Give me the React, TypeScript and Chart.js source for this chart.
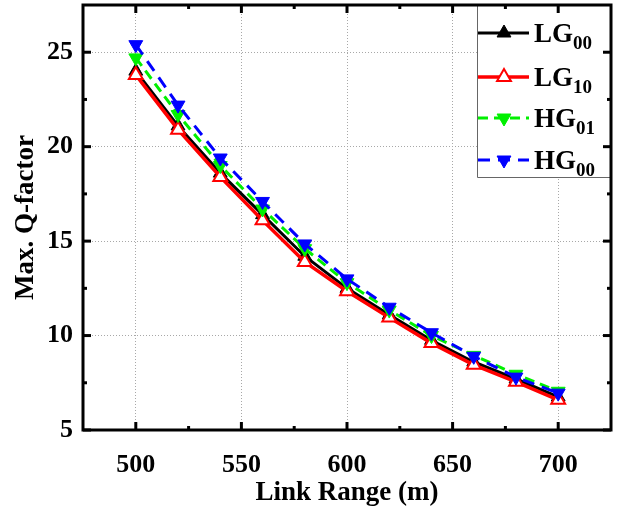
import React, { useEffect, useRef } from 'react';
import { Chart, registerables } from 'chart.js';

Chart.register(...registerables);

const linkRange = [500, 520, 540, 560, 580, 600, 620, 640, 660, 680, 700];
const lg00 = [24.0, 21.1, 18.6, 16.4, 14.2, 12.5, 11.1, 9.75, 8.6, 7.7, 6.75];
const lg10 = [23.8, 20.9, 18.4, 16.1, 13.9, 12.35, 10.95, 9.6, 8.45, 7.55, 6.6];
const hg01 = [24.7, 21.7, 19.0, 16.7, 14.6, 12.8, 11.35, 10.0, 8.95, 7.95, 7.05];
const hg00 = [25.4, 22.2, 19.4, 17.1, 14.85, 13.0, 11.5, 10.15, 8.9, 7.8, 6.95];

const xTickValues = [500, 550, 600, 650, 700];
const xMinorValues = [525, 575, 625, 675];
const yTickValues = [5, 10, 15, 20, 25];
const yMinorValues = [7.5, 12.5, 17.5, 22.5];

const seriesBase = ['LG', 'LG', 'HG', 'HG'];
const seriesSub = ['00', '10', '01', '00'];

const FONT = '"Liberation Serif", "Times New Roman", serif';

function drawTriangle(ctx: CanvasRenderingContext2D, x: number, y: number, r: number, down: boolean) {
  let rad = down ? Math.PI : 0;
  const step = (2 * Math.PI) / 3;
  ctx.beginPath();
  ctx.moveTo(x + Math.sin(rad) * r, y - Math.cos(rad) * r);
  rad += step;
  ctx.lineTo(x + Math.sin(rad) * r, y - Math.cos(rad) * r);
  rad += step;
  ctx.lineTo(x + Math.sin(rad) * r, y - Math.cos(rad) * r);
  ctx.closePath();
}

const framePlugin = {
  id: 'frameTicks',
  afterDraw(chart: any) {
    const { ctx, chartArea } = chart;
    const { left, right, top, bottom } = chartArea;
    const xs = chart.scales.x;
    const ys = chart.scales.y;
    ctx.save();
    ctx.strokeStyle = '#000';
    ctx.lineWidth = 3;
    ctx.lineCap = 'butt';
    const tick = (x1: number, y1: number, x2: number, y2: number) => {
      ctx.beginPath();
      ctx.moveTo(x1, y1);
      ctx.lineTo(x2, y2);
      ctx.stroke();
    };
    xTickValues.forEach((v) => {
      const px = xs.getPixelForValue(v);
      tick(px, bottom, px, bottom - 8);
      tick(px, top, px, top + 8);
    });
    xMinorValues.forEach((v) => {
      const px = xs.getPixelForValue(v);
      tick(px, bottom, px, bottom - 4);
      tick(px, top, px, top + 4);
    });
    yTickValues.forEach((v) => {
      const py = ys.getPixelForValue(v);
      tick(left, py, left + 8, py);
      tick(right, py, right - 8, py);
    });
    yMinorValues.forEach((v) => {
      const py = ys.getPixelForValue(v);
      tick(left, py, left + 4, py);
      tick(right, py, right - 4, py);
    });
    ctx.strokeRect(left, top, right - left, bottom - top);
    ctx.restore();
  },
};

const legendPlugin = {
  id: 'subLegend',
  afterDraw(chart: any) {
    const { ctx, chartArea } = chart;
    const boxRight = chartArea.right;
    const boxLeft = boxRight - 134;
    const boxTop = chartArea.top;
    const boxBottom = boxTop + 172;
    ctx.save();
    ctx.fillStyle = '#fff';
    ctx.fillRect(boxLeft, boxTop, boxRight - boxLeft, boxBottom - boxTop);
    ctx.strokeStyle = '#666';
    ctx.lineWidth = 1;
    ctx.beginPath();
    ctx.moveTo(boxLeft + 0.5, boxTop);
    ctx.lineTo(boxLeft + 0.5, boxBottom + 0.5);
    ctx.lineTo(boxRight, boxBottom + 0.5);
    ctx.stroke();
    const rowY = [28, 72, 113, 155];
    chart.data.datasets.forEach((ds: any, i: number) => {
      const y = boxTop + rowY[i];
      ctx.save();
      ctx.strokeStyle = ds.borderColor;
      ctx.lineWidth = ds.borderWidth;
      ctx.setLineDash(ds.borderDash || []);
      ctx.beginPath();
      ctx.moveTo(boxLeft + 1, y);
      ctx.lineTo(boxLeft + 52, y);
      ctx.stroke();
      ctx.setLineDash([]);
      drawTriangle(ctx, boxLeft + 27, y, ds.pointRadius, ds.pointRotation === 180);
      ctx.fillStyle = ds.pointBackgroundColor;
      ctx.fill();
      ctx.lineWidth = ds.pointBorderWidth;
      ctx.strokeStyle = ds.pointBorderColor;
      ctx.stroke();
      ctx.restore();
      const tx = boxLeft + 57;
      ctx.fillStyle = '#000';
      ctx.textBaseline = 'alphabetic';
      ctx.textAlign = 'left';
      ctx.font = `bold 27px ${FONT}`;
      ctx.fillText(seriesBase[i], tx, y + 9);
      const w = ctx.measureText(seriesBase[i]).width;
      ctx.font = `bold 19px ${FONT}`;
      ctx.fillText(seriesSub[i], tx + w, y + 16);
    });
    ctx.restore();
  },
};

export default function App() {
  const ref = useRef<HTMLCanvasElement | null>(null);
  useEffect(() => {
    if (!ref.current) return;
    const mk = (label: string, data: number[], color: string, opts: any) => ({
      label,
      data: linkRange.map((x, i) => ({ x, y: data[i] })),
      borderColor: color,
      backgroundColor: color,
      borderWidth: 3,
      pointStyle: 'triangle',
      pointRadius: 8,
      pointHoverRadius: 8,
      pointBackgroundColor: color,
      pointBorderColor: color,
      pointBorderWidth: 1,
      pointRotation: 0,
      tension: 0,
      fill: false,
      ...opts,
    });
    const chart = new Chart(ref.current, {
      type: 'line',
      data: {
        datasets: [
          mk('LG00', lg00, '#000000', { order: 4 }),
          mk('LG10', lg10, '#ff0000', {
            order: 3,
            borderWidth: 3.5,
            pointBackgroundColor: '#ffffff',
            pointBorderWidth: 2,
          }),
          mk('HG01', hg01, '#00f000', { order: 2, borderDash: [10, 6], pointRotation: 180 }),
          mk('HG00', hg00, '#0000ff', { order: 1, borderDash: [12, 8], pointRotation: 180 }),
        ],
      },
      plugins: [legendPlugin, framePlugin],
      options: {
        responsive: false,
        animation: false,
        devicePixelRatio: 1,
        layout: { autoPadding: false, padding: { left: 0, right: 9, top: 5, bottom: 0 } },
        plugins: {
          legend: { display: false },
          tooltip: { enabled: false },
        },
        scales: {
          x: {
            type: 'linear',
            min: 475,
            max: 725,
            afterBuildTicks: (s: any) => {
              s.ticks = xTickValues.map((v) => ({ value: v }));
            },
            afterFit: (s: any) => {
              s.height = 79;
              s.paddingLeft = 0;
              s.paddingRight = 0;
            },
            ticks: {
              autoSkip: false,
              maxRotation: 0,
              color: '#000',
              padding: 20,
              font: { family: FONT, size: 26, weight: 'bold' },
            },
            grid: { color: '#a8a8a8', lineWidth: 1, drawTicks: false },
            border: { display: false, dash: [1, 2] },
            title: {
              display: true,
              text: 'Link Range (m)',
              color: '#000',
              font: { family: FONT, size: 27, weight: 'bold' },
              padding: { top: 0, bottom: 0 },
            },
          },
          y: {
            type: 'linear',
            min: 5,
            max: 27.5,
            afterBuildTicks: (s: any) => {
              s.ticks = yTickValues.map((v) => ({ value: v }));
            },
            afterFit: (s: any) => {
              s.width = 83;
              s.paddingTop = 0;
              s.paddingBottom = 0;
            },
            ticks: {
              color: '#000',
              padding: 10,
              font: { family: FONT, size: 26, weight: 'bold' },
            },
            grid: { color: '#a8a8a8', lineWidth: 1, drawTicks: false },
            border: { display: false, dash: [1, 2] },
            title: {
              display: true,
              text: 'Max. Q-factor',
              color: '#000',
              font: { family: FONT, size: 27, weight: 'bold' },
              padding: { top: 10, bottom: 0 },
            },
          },
        },
      },
    } as any);
    return () => chart.destroy();
  }, []);
  return (
    <div style={{ position: 'absolute', left: 0, top: 0, width: 620, height: 509, background: '#fff' }}>
      <canvas ref={ref} width={620} height={509} />
    </div>
  );
}
